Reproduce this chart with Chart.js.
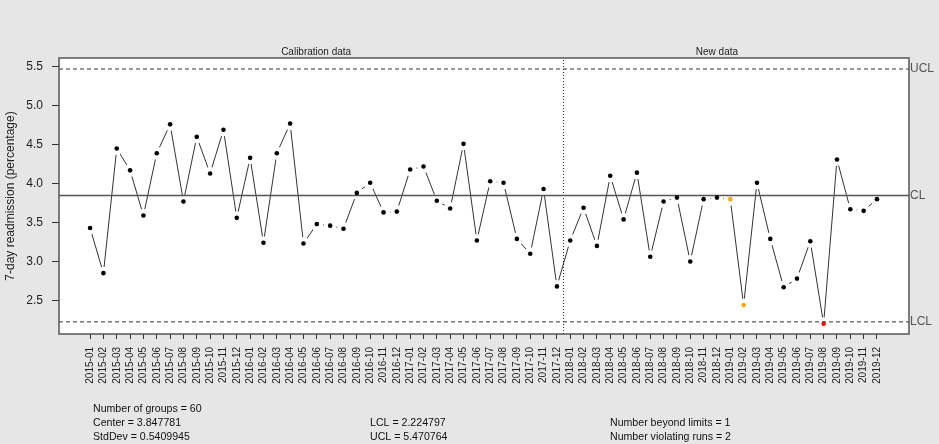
<!DOCTYPE html>
<html>
<head>
<meta charset="utf-8">
<script src="https://cdn.jsdelivr.net/npm/chart.js@4.4.1/dist/chart.umd.min.js"></script>
<style>
  html, body { margin: 0; padding: 0; background: #e6e6e6; }
  #wrap { width: 939px; height: 444px; position: relative; }
</style>
</head>
<body>
<div id="wrap"><canvas id="qccChart" width="939" height="444"></canvas></div>
<script>
const months = [
  "2015-01", "2015-02", "2015-03", "2015-04", "2015-05", "2015-06", "2015-07", "2015-08", "2015-09", "2015-10", "2015-11", "2015-12",
  "2016-01", "2016-02", "2016-03", "2016-04", "2016-05", "2016-06", "2016-07", "2016-08", "2016-09", "2016-10", "2016-11", "2016-12",
  "2017-01", "2017-02", "2017-03", "2017-04", "2017-05", "2017-06", "2017-07", "2017-08", "2017-09", "2017-10", "2017-11", "2017-12",
  "2018-01", "2018-02", "2018-03", "2018-04", "2018-05", "2018-06", "2018-07", "2018-08", "2018-09", "2018-10", "2018-11", "2018-12",
  "2019-01", "2019-02", "2019-03", "2019-04", "2019-05", "2019-06", "2019-07", "2019-08", "2019-09", "2019-10", "2019-11", "2019-12"
];

// 7-day readmission (%)
const readmission = [
  3.43, 2.85, 4.45, 4.17, 3.59, 4.39, 4.76, 3.77, 4.60, 4.13, 4.69, 3.56,
  4.33, 3.24, 4.39, 4.77, 3.23, 3.48, 3.46, 3.42, 3.88, 4.01, 3.63, 3.64,
  4.18, 4.22, 3.78, 3.68, 4.51, 3.27, 4.03, 4.01, 3.29, 3.10, 3.93, 2.68,
  3.27, 3.69, 3.20, 4.10, 3.54, 4.14, 3.06, 3.77, 3.82, 3.00, 3.80, 3.82,
  3.80, 2.44, 4.01, 3.29, 2.67, 2.78, 3.26, 2.20, 4.31, 3.67, 3.65, 3.80
];

const violatingRuns = [49, 50];   // point numbers (orange)
const beyondLimits = [56];        // point numbers (red)

const center = 3.847781;
const lcl = 2.224797;
const ucl = 5.470764;
const calibrationEnd = 36.5;

const yTicks = [2.5, 3.0, 3.5, 4.0, 4.5, 5.0, 5.5];
const xMin = -1.33, xMax = 62.4;
const yMin = 2.069, yMax = 5.612;

const statsLeft = ["Number of groups = 60", "Center = 3.847781", "StdDev = 0.5409945"];
const statsMid = ["LCL = 2.224797", "UCL = 5.470764"];
const statsRight = ["Number beyond limits = 1", "Number violating runs = 2"];

const FONT = "'Liberation Sans', Arial, sans-serif";

const points = readmission.map((v, i) => ({ x: i + 1, y: v }));
const dotColors = readmission.map((v, i) => {
  if (beyondLimits.includes(i + 1)) return "#ff0000";
  if (violatingRuns.includes(i + 1)) return "#ffa500";
  return "#000000";
});

function hLine(y) {
  return [{ x: xMin, y: y }, { x: xMax, y: y }];
}

const decor = {
  id: "decor",
  beforeDatasetsDraw(chart) {
    const { ctx, chartArea: a } = chart;
    ctx.save();
    ctx.fillStyle = "#ffffff";
    ctx.fillRect(a.left, a.top, a.right - a.left, a.bottom - a.top);
    ctx.restore();
  },
  afterDraw(chart) {
    const { ctx, chartArea: a, scales } = chart;
    const x = scales.x, y = scales.y;
    ctx.save();
    ctx.strokeStyle = "#555555";
    ctx.lineWidth = 1.5;
    ctx.strokeRect(a.left, a.top, a.right - a.left, a.bottom - a.top);

    ctx.fillStyle = "#222222";
    ctx.font = "10px " + FONT;
    ctx.textAlign = "center";
    ctx.textBaseline = "alphabetic";
    ctx.fillText("Calibration data", x.getPixelForValue(17.95), 55);
    ctx.fillText("New data", x.getPixelForValue(48.0), 55);

    ctx.fillStyle = "#555555";
    ctx.font = "12px " + FONT;
    ctx.textAlign = "left";
    ctx.textBaseline = "middle";
    ctx.fillText("UCL", a.right + 1, y.getPixelForValue(ucl));
    ctx.fillText("CL", a.right + 1, y.getPixelForValue(center));
    ctx.fillText("LCL", a.right + 1, y.getPixelForValue(lcl));

    ctx.fillStyle = "#111111";
    ctx.font = "10.6px " + FONT;
    ctx.textBaseline = "alphabetic";
    statsLeft.forEach((t, i) => ctx.fillText(t, 93, 412 + i * 14));
    statsMid.forEach((t, i) => ctx.fillText(t, 370, 426 + i * 14));
    statsRight.forEach((t, i) => ctx.fillText(t, 610, 426 + i * 14));
    ctx.restore();
  }
};

new Chart(document.getElementById("qccChart"), {
  type: "line",
  data: {
    datasets: [
      {
        // dots on top
        data: points,
        showLine: false,
        pointRadius: 2.3,
        pointBorderWidth: 0,
        pointBackgroundColor: dotColors,
        order: 1
      },
      {
        data: hLine(center),
        borderColor: "#555555",
        borderWidth: 1.4,
        pointRadius: 0,
        order: 2
      },
      {
        data: hLine(ucl),
        borderColor: "#333333",
        borderWidth: 1,
        borderDash: [4, 3],
        pointRadius: 0,
        order: 2
      },
      {
        data: hLine(lcl),
        borderColor: "#333333",
        borderWidth: 1,
        borderDash: [4, 3],
        pointRadius: 0,
        order: 2
      },
      {
        data: [{ x: calibrationEnd, y: yMin }, { x: calibrationEnd, y: yMax }],
        borderColor: "#222222",
        borderWidth: 1,
        borderDash: [1, 2],
        pointRadius: 0,
        order: 2
      },
      {
        // connecting line, white point masks give the R "type = b" gaps
        data: points,
        borderColor: "#333333",
        borderWidth: 1,
        tension: 0,
        pointRadius: 6.5,
        pointBorderWidth: 0,
        pointBackgroundColor: "#ffffff",
        order: 5
      }
    ]
  },
  options: {
    responsive: false,
    animation: false,
    events: [],
    layout: { padding: { left: 0, top: 58, right: 30, bottom: 0 } },
    plugins: { legend: { display: false }, tooltip: { enabled: false } },
    scales: {
      x: {
        type: "linear",
        min: xMin,
        max: xMax,
        afterFit: (s) => { s.height = 110; },
        afterBuildTicks: (s) => { s.ticks = months.map((m, i) => ({ value: i + 1 })); },
        grid: { drawOnChartArea: false, drawTicks: true, tickLength: 5, color: "#333333" },
        border: { display: false },
        ticks: {
          autoSkip: false,
          maxRotation: 90,
          minRotation: 90,
          padding: 8,
          color: "#222222",
          font: { family: FONT, size: 10 },
          callback: (v) => months[Math.round(v) - 1] || ""
        }
      },
      y: {
        min: yMin,
        max: yMax,
        afterFit: (s) => { s.width = 59; },
        afterBuildTicks: (s) => { s.ticks = yTicks.map((v) => ({ value: v })); },
        grid: { drawOnChartArea: false, drawTicks: true, tickLength: 7, color: "#333333" },
        border: { display: false },
        ticks: {
          padding: 9,
          color: "#222222",
          font: { family: FONT, size: 12 },
          callback: (v) => Number(v).toFixed(1)
        },
        title: {
          display: true,
          text: "7-day readmission (percentage)",
          color: "#222222",
          font: { family: FONT, size: 12 },
          padding: { top: 3, bottom: 0 }
        }
      }
    }
  },
  plugins: [decor]
});
</script>
</body>
</html>
